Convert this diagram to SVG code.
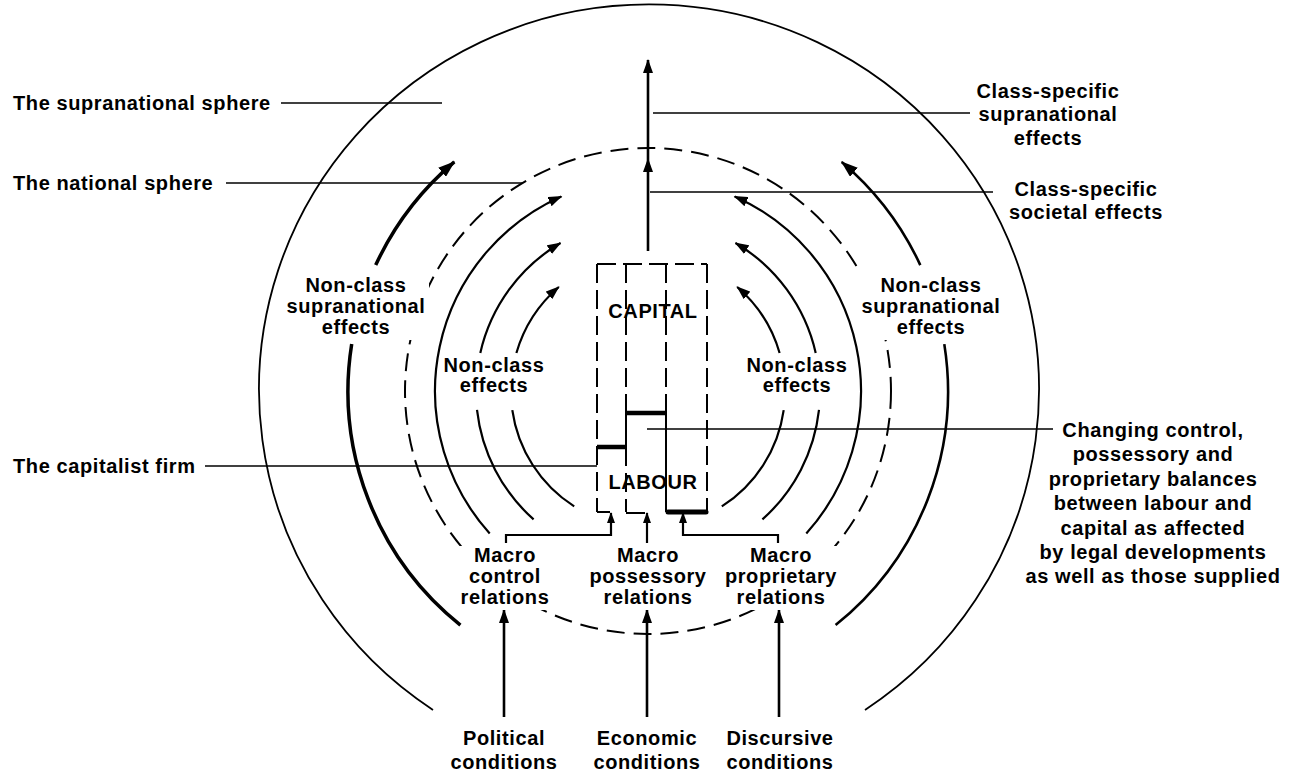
<svg xmlns="http://www.w3.org/2000/svg" width="1289" height="777" viewBox="0 0 1289 777">
<defs>
<style>
.t{font-family:"Liberation Sans",Arial,sans-serif;font-weight:bold;font-size:20px;letter-spacing:0.6px;fill:#000}
.m{text-anchor:middle}
.ln{fill:none;stroke:#000;stroke-width:1.5}
.arc{fill:none;stroke:#000;stroke-width:2.2}
.dash{fill:none;stroke:#000;stroke-width:2;stroke-dasharray:18 9}
.bdash{fill:none;stroke:#000;stroke-width:2;stroke-dasharray:19 7}
.bg{fill:#fff;stroke:none}
.thick{fill:none;stroke:#000;stroke-width:4.5}
</style>
<marker id="ah" viewBox="0 0 14 10" refX="13" refY="5" markerWidth="14" markerHeight="10" markerUnits="userSpaceOnUse" orient="auto"><path d="M0,0 L14,5 L0,10 z" fill="#000"/></marker>
<marker id="ahl" viewBox="0 0 17 12" refX="16" refY="6" markerWidth="17" markerHeight="12" markerUnits="userSpaceOnUse" orient="auto"><path d="M0,0 L17,6 L0,12 z" fill="#000"/></marker>
<marker id="ahs" viewBox="0 0 11 8" refX="10" refY="4" markerWidth="11" markerHeight="8" markerUnits="userSpaceOnUse" orient="auto"><path d="M0,0 L11,4 L0,8 z" fill="#000"/></marker>
</defs>
<rect width="1289" height="777" fill="#fff"/>

<g id="spheres">
<path d="M433,710 A390,385 0 1 1 865,710" fill="none" stroke="#000" stroke-width="1.8"/>
<circle cx="648" cy="391" r="243" class="dash"/>
</g>

<g id="connectors">
<path class="arc" d="M489.7,533.5 A213,213 0 0 1 561.4,196.4" marker-end="url(#ah)"/>
<path class="arc" d="M533.6,519.4 A172,172 0 0 1 477.0,409.9"/>
<path class="arc" d="M480.3,352.9 A172,172 0 0 1 560.5,243.0" marker-end="url(#ah)"/>
<path class="arc" d="M574.2,506.4 A137,137 0 0 1 512.3,410.1"/>
<path class="arc" d="M516.4,353.0 A137,137 0 0 1 558.8,287.0" marker-end="url(#ah)"/>
<path class="arc" style="stroke-width:3.5" d="M460.4,625.1 A300,300 0 0 1 351.7,344.1"/>
<path class="arc" style="stroke-width:3.5" d="M375.7,265.1 A300,300 0 0 1 454.3,161.9" marker-end="url(#ahl)"/>
<path class="arc" d="M806.3,533.5 A213,213 0 0 0 734.6,196.4" marker-end="url(#ah)"/>
<path class="arc" d="M762.4,519.4 A172,172 0 0 0 819.0,409.9"/>
<path class="arc" d="M815.7,352.9 A172,172 0 0 0 735.5,243.0" marker-end="url(#ah)"/>
<path class="arc" d="M721.8,506.4 A137,137 0 0 0 783.7,410.1"/>
<path class="arc" d="M779.6,353.0 A137,137 0 0 0 737.2,287.0" marker-end="url(#ah)"/>
<path class="arc" style="stroke-width:2.6" d="M835.6,625.1 A300,300 0 0 0 944.3,344.1"/>
<path class="arc" style="stroke-width:2.6" d="M920.3,265.1 A300,300 0 0 0 841.7,161.9" marker-end="url(#ahl)"/>
<path d="M648,251 L648,159 L648,60" fill="none" stroke="#000" stroke-width="2.6" marker-mid="url(#ah)" marker-end="url(#ah)"/>
<path class="ln" d="M281,103 H442"/>
<path class="ln" d="M226,183 H523"/>
<path class="ln" d="M205,466 H597"/>
<path class="ln" d="M653,113 H970"/>
<path class="ln" d="M650,192 H993"/>
<path class="ln" d="M647,429 H1053"/>
<path class="arc" d="M506,543 V535 H611 V513" marker-end="url(#ahs)"/>
<path class="arc" d="M647,543 V513" marker-end="url(#ahs)"/>
<path class="arc" d="M778,543 V535 H683 V513" marker-end="url(#ahs)"/>
<path class="arc" style="stroke-width:2.6" d="M504,717 V610" marker-end="url(#ah)"/>
<path class="arc" style="stroke-width:2.6" d="M647,717 V610" marker-end="url(#ah)"/>
<path class="arc" style="stroke-width:2.6" d="M779,717 V610" marker-end="url(#ah)"/>
</g>

<g id="firm">
<path class="bdash" d="M597,264 H707 M597,264 V512 M707,264 V512 M626,264 V413 M666,264 V413 M626,447 V512"/>
<path class="ln" style="stroke-width:2" d="M626,413 V447 M666,413 V512 M597,512 H610 M626,513 H645"/>
<path class="thick" d="M597,447 H626 M626,413 H666"/>
<path class="thick" style="stroke-width:5;stroke-linecap:round" d="M668,512 H706"/>
<text class="t m" x="653" y="318">CAPITAL</text>
<text class="t m" x="653" y="489">LABOUR</text>
</g>

<g id="label-supranational-sphere"><text class="t" x="13" y="110">The supranational sphere</text></g>
<g id="label-national-sphere"><text class="t" x="13" y="190">The national sphere</text></g>
<g id="label-capitalist-firm"><text class="t" x="13" y="473">The capitalist firm</text></g>

<g id="label-class-supranational">
<text class="t m" x="1048" y="98">Class-specific</text>
<text class="t m" x="1048" y="121">supranational</text>
<text class="t m" x="1048" y="145">effects</text>
</g>
<g id="label-class-societal">
<text class="t m" x="1086" y="196">Class-specific</text>
<text class="t m" x="1086" y="219">societal effects</text>
</g>

<g id="label-nonclass-supra-left">
<rect class="bg" x="283" y="272" width="146" height="68"/>
<text class="t m" x="356" y="292">Non-class</text>
<text class="t m" x="356" y="313">supranational</text>
<text class="t m" x="356" y="334">effects</text>
</g>
<g id="label-nonclass-supra-right">
<rect class="bg" x="858" y="272" width="146" height="68"/>
<text class="t m" x="931" y="292">Non-class</text>
<text class="t m" x="931" y="313">supranational</text>
<text class="t m" x="931" y="334">effects</text>
</g>
<g id="label-nonclass-left">
<text class="t m" x="494" y="372">Non-class</text>
<text class="t m" x="494" y="392">effects</text>
</g>
<g id="label-nonclass-right">
<text class="t m" x="797" y="372">Non-class</text>
<text class="t m" x="797" y="392">effects</text>
</g>

<g id="macro-control">
<rect class="bg" x="458" y="546" width="94" height="64"/>
<text class="t m" x="505" y="562">Macro</text>
<text class="t m" x="505" y="583">control</text>
<text class="t m" x="505" y="604">relations</text>
</g>
<g id="macro-possessory">
<rect class="bg" x="590" y="546" width="117" height="64"/>
<text class="t m" x="648" y="562">Macro</text>
<text class="t m" x="648" y="583">possessory</text>
<text class="t m" x="648" y="604">relations</text>
</g>
<g id="macro-proprietary">
<rect class="bg" x="720" y="546" width="122" height="64"/>
<text class="t m" x="781" y="562">Macro</text>
<text class="t m" x="781" y="583">proprietary</text>
<text class="t m" x="781" y="604">relations</text>
</g>

<g id="label-changing">
<text class="t m" x="1153" y="437">Changing control,</text>
<text class="t m" x="1153" y="461">possessory and</text>
<text class="t m" x="1153" y="486">proprietary balances</text>
<text class="t m" x="1153" y="510">between labour and</text>
<text class="t m" x="1153" y="535">capital as affected</text>
<text class="t m" x="1153" y="559">by legal developments</text>
<text class="t m" x="1153" y="583">as well as those supplied</text>
</g>

<g id="political">
<text class="t m" x="504" y="745">Political</text>
<text class="t m" x="504" y="769">conditions</text>
</g>
<g id="economic">
<text class="t m" x="647" y="745">Economic</text>
<text class="t m" x="647" y="769">conditions</text>
</g>
<g id="discursive">
<text class="t m" x="780" y="745">Discursive</text>
<text class="t m" x="780" y="769">conditions</text>
</g>
</svg>
